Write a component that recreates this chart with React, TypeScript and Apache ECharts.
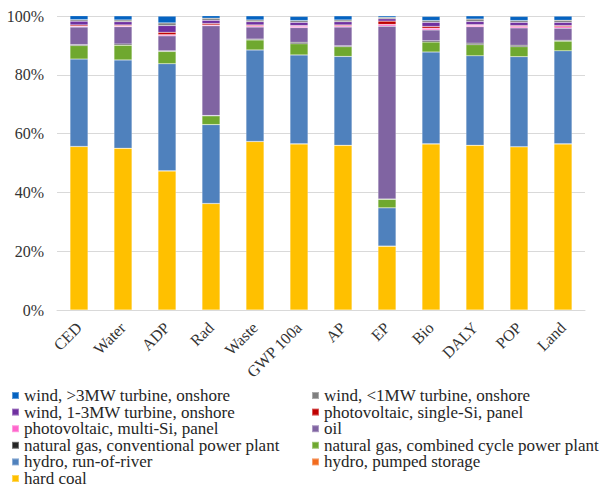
import React, { useEffect, useRef } from "react";
import * as echarts from "echarts";

const categories = ["CED", "Water", "ADP", "Rad", "Waste", "GWP 100a", "AP", "EP", "Bio", "DALY", "POP", "Land"];
const yTicks = [0, 20, 40, 60, 80, 100];

// values in % per category, bottom of stack first
const hardCoal = [55.6, 55.0, 47.3, 36.2, 57.3, 56.5, 56.0, 21.7, 56.5, 56.0, 55.5, 56.5];
const hydroPumped = [0.05, 0.05, 0.05, 0.05, 0.05, 0.05, 0.05, 0.05, 0.05, 0.05, 0.05, 0.05];
const hydroRor = [29.7, 30.0, 36.4, 26.8, 31.1, 30.2, 30.2, 13.0, 31.2, 30.4, 30.6, 31.6];
const ngCombined = [4.6, 5.0, 4.2, 3.0, 3.4, 3.8, 3.3, 2.9, 3.4, 3.8, 3.4, 3.3];
const ngConventional = [0.3, 0.4, 0.2, 0.1, 0.3, 0.5, 0.3, 0.1, 0.4, 0.5, 0.5, 0.3];
const oil = [6.0, 5.9, 5.1, 30.5, 4.1, 5.0, 6.4, 58.8, 3.7, 5.6, 5.9, 4.1];
const pvMulti = [0.3, 0.3, 0.4, 0.3, 0.4, 0.5, 0.4, 0.6, 0.6, 0.5, 0.5, 0.5];
const pvSingle = [0.4, 0.3, 0.8, 0.5, 0.3, 0.2, 0.3, 1.1, 0.6, 0.2, 0.3, 0.4];
const wind13 = [1.3, 1.1, 2.3, 1.1, 1.1, 1.1, 1.1, 0.8, 1.4, 1.1, 1.1, 1.1];
const windSmall = [0.5, 0.6, 0.9, 0.7, 0.6, 0.6, 0.6, 0.5, 0.6, 0.8, 0.6, 0.7];
const windLarge = [1.4, 1.4, 2.3, 0.9, 1.4, 1.4, 1.4, 0.5, 1.4, 1.1, 1.4, 1.4];

const seriesDefs = [
  { name: "hard coal", data: hardCoal, color: "#FFC000" },
  { name: "hydro, pumped storage", data: hydroPumped, color: "#F26B1D" },
  { name: "hydro, run-of-river", data: hydroRor, color: "#4F81BD" },
  { name: "natural gas, combined cycle power plant", data: ngCombined, color: "#6FA82F" },
  { name: "natural gas, conventional power plant", data: ngConventional, color: "#262626" },
  { name: "oil", data: oil, color: "#8064A2" },
  { name: "photovoltaic, multi-Si, panel", data: pvMulti, color: "#FF66CC" },
  { name: "photovoltaic, single-Si, panel", data: pvSingle, color: "#C00000" },
  { name: "wind, 1-3MW turbine, onshore", data: wind13, color: "#7030A0" },
  { name: "wind, <1MW turbine, onshore", data: windSmall, color: "#7F7F7F" },
  { name: "wind, >3MW turbine, onshore", data: windLarge, color: "#0563C1" },
];

const legendLeft = [
  "wind, >3MW turbine, onshore",
  "wind, 1-3MW turbine, onshore",
  "photovoltaic, multi-Si, panel",
  "natural gas, conventional power plant",
  "hydro, run-of-river",
  "hard coal",
];
const legendRight = [
  "wind, <1MW turbine, onshore",
  "photovoltaic, single-Si, panel",
  "oil",
  "natural gas, combined cycle power plant",
  "hydro, pumped storage",
];

const FONT = "'Liberation Serif', 'Times New Roman', serif";

export default function App() {
  const ref = useRef<HTMLDivElement>(null);
  useEffect(() => {
    if (!ref.current) return;
    const chart = echarts.init(ref.current, undefined, { renderer: "svg" });
    const legendCommon = {
      orient: "vertical" as const,
      top: 387,
      height: 300,
      itemWidth: 7,
      itemHeight: 7,
      itemGap: -0.4,
      icon: "rect",
      selectedMode: false,
      textStyle: { fontFamily: FONT, fontSize: 17, color: "#262626", lineHeight: 16 },
      padding: 0,
    };
    chart.setOption({
      animation: false,
      backgroundColor: "#ffffff",
      textStyle: { fontFamily: FONT },
      grid: { left: 57, right: 17, top: 16, bottom: 179, containLabel: false },
      legend: [
        { ...legendCommon, left: 11, data: legendLeft },
        { ...legendCommon, left: 311, data: legendRight },
      ],
      xAxis: {
        type: "category",
        data: categories,
        axisTick: { show: false },
        axisLine: { lineStyle: { color: "#d9d9d9" } },
        axisLabel: {
          rotate: 45,
          interval: 0,
          margin: 15,
          fontFamily: FONT,
          fontSize: 16,
          color: "#333333",
        },
      },
      yAxis: {
        type: "value",
        min: yTicks[0],
        max: yTicks[yTicks.length - 1],
        interval: 20,
        axisLabel: {
          formatter: "{value}%",
          fontFamily: FONT,
          fontSize: 16,
          color: "#333333",
          margin: 13,
        },
        axisLine: { show: false },
        axisTick: { show: false },
        splitLine: { lineStyle: { color: "#d9d9d9", width: 1 } },
      },
      series: seriesDefs.map((s) => ({
        name: s.name,
        type: "bar",
        stack: "total",
        data: s.data,
        barWidth: 18,
        itemStyle: { color: s.color, borderColor: "rgba(255,255,255,0.35)", borderWidth: 0.5 },
      })),
    });
    return () => chart.dispose();
  }, []);
  return (
    <div
      ref={ref}
      style={{ position: "fixed", left: 0, top: 0, width: 602, height: 489 }}
    />
  );
}
